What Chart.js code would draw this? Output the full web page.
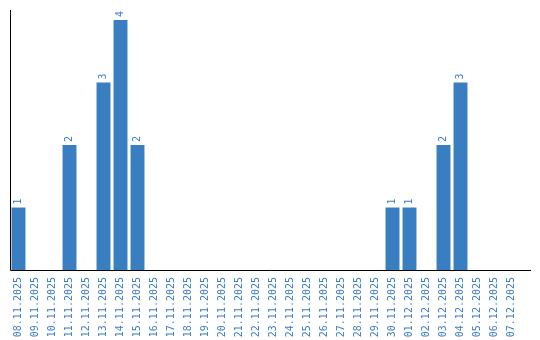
<!DOCTYPE html>
<html lang="en">
<head>
    <meta charset="UTF-8">
    <title>Daily count</title>
    <style>
        html, body { margin: 0; padding: 0; background: #fff; }
        #wrap { width: 540px; height: 340px; }
    </style>
    <script src="https://cdn.jsdelivr.net/npm/chart.js"></script>
</head>
<body>
    <div id="wrap"><canvas id="chart"></canvas></div>

    <script>
        const dates = [
            '08.11.2025', '09.11.2025', '10.11.2025', '11.11.2025', '12.11.2025',
            '13.11.2025', '14.11.2025', '15.11.2025', '16.11.2025', '17.11.2025',
            '18.11.2025', '19.11.2025', '20.11.2025', '21.11.2025', '22.11.2025',
            '23.11.2025', '24.11.2025', '25.11.2025', '26.11.2025', '27.11.2025',
            '28.11.2025', '29.11.2025', '30.11.2025', '01.12.2025', '02.12.2025',
            '03.12.2025', '04.12.2025', '05.12.2025', '06.12.2025', '07.12.2025'
        ];
        const counts = [
            1, 0, 0, 2, 0, 3, 4, 2, 0, 0,
            0, 0, 0, 0, 0, 0, 0, 0, 0, 0,
            0, 0, 1, 1, 0, 2, 3, 0, 0, 0
        ];

        const barColor = '#3a7ec2';
        const monoFont = '"DejaVu Sans Mono", "Liberation Mono", monospace';

        // value labels above bars, rotated like the x ticks
        const valueLabels = {
            id: 'valueLabels',
            afterDatasetsDraw(chart) {
                const ctx = chart.ctx;
                const meta = chart.getDatasetMeta(0);
                ctx.save();
                ctx.fillStyle = barColor;
                ctx.font = '10px ' + monoFont;
                ctx.textAlign = 'left';
                ctx.textBaseline = 'middle';
                meta.data.forEach((bar, i) => {
                    if (!counts[i]) return;
                    ctx.save();
                    ctx.translate(bar.x, bar.y - 3);
                    ctx.rotate(-Math.PI / 2);
                    ctx.fillText(String(counts[i]), 0, 0);
                    ctx.restore();
                });
                ctx.restore();
            }
        };

        // x axis line runs a bit past the last category
        const axisLines = {
            id: 'axisLines',
            afterDraw(chart) {
                const ctx = chart.ctx;
                const a = chart.chartArea;
                ctx.save();
                ctx.strokeStyle = '#000';
                ctx.lineWidth = 1;
                ctx.beginPath();
                ctx.moveTo(Math.round(a.left) + 0.5, a.top);
                ctx.lineTo(Math.round(a.left) + 0.5, Math.round(a.bottom) + 0.5);
                ctx.lineTo(a.right + 11, Math.round(a.bottom) + 0.5);
                ctx.stroke();
                ctx.restore();
            }
        };

        new Chart(document.getElementById('chart'), {
            type: 'bar',
            data: {
                labels: dates,
                datasets: [{
                    data: counts,
                    backgroundColor: barColor,
                    borderWidth: 0,
                    barPercentage: 0.82,
                    categoryPercentage: 1
                }]
            },
            options: {
                responsive: true,
                maintainAspectRatio: false,
                animation: false,
                layout: { padding: { left: 10, top: 10, right: 20, bottom: 0 } },
                plugins: {
                    legend: { display: false },
                    tooltip: { enabled: false }
                },
                scales: {
                    x: {
                        grid: { display: false, drawTicks: false },
                        border: { display: false },
                        ticks: {
                            color: barColor,
                            font: { family: monoFont, size: 10 },
                            minRotation: 90,
                            maxRotation: 90,
                            autoSkip: false,
                            padding: 7
                        },
                        afterFit(scale) { scale.height = 70; }
                    },
                    y: {
                        display: false,
                        min: 0,
                        max: 4.16
                    }
                }
            },
            plugins: [valueLabels, axisLines]
        });
    </script>
</body>
</html>
